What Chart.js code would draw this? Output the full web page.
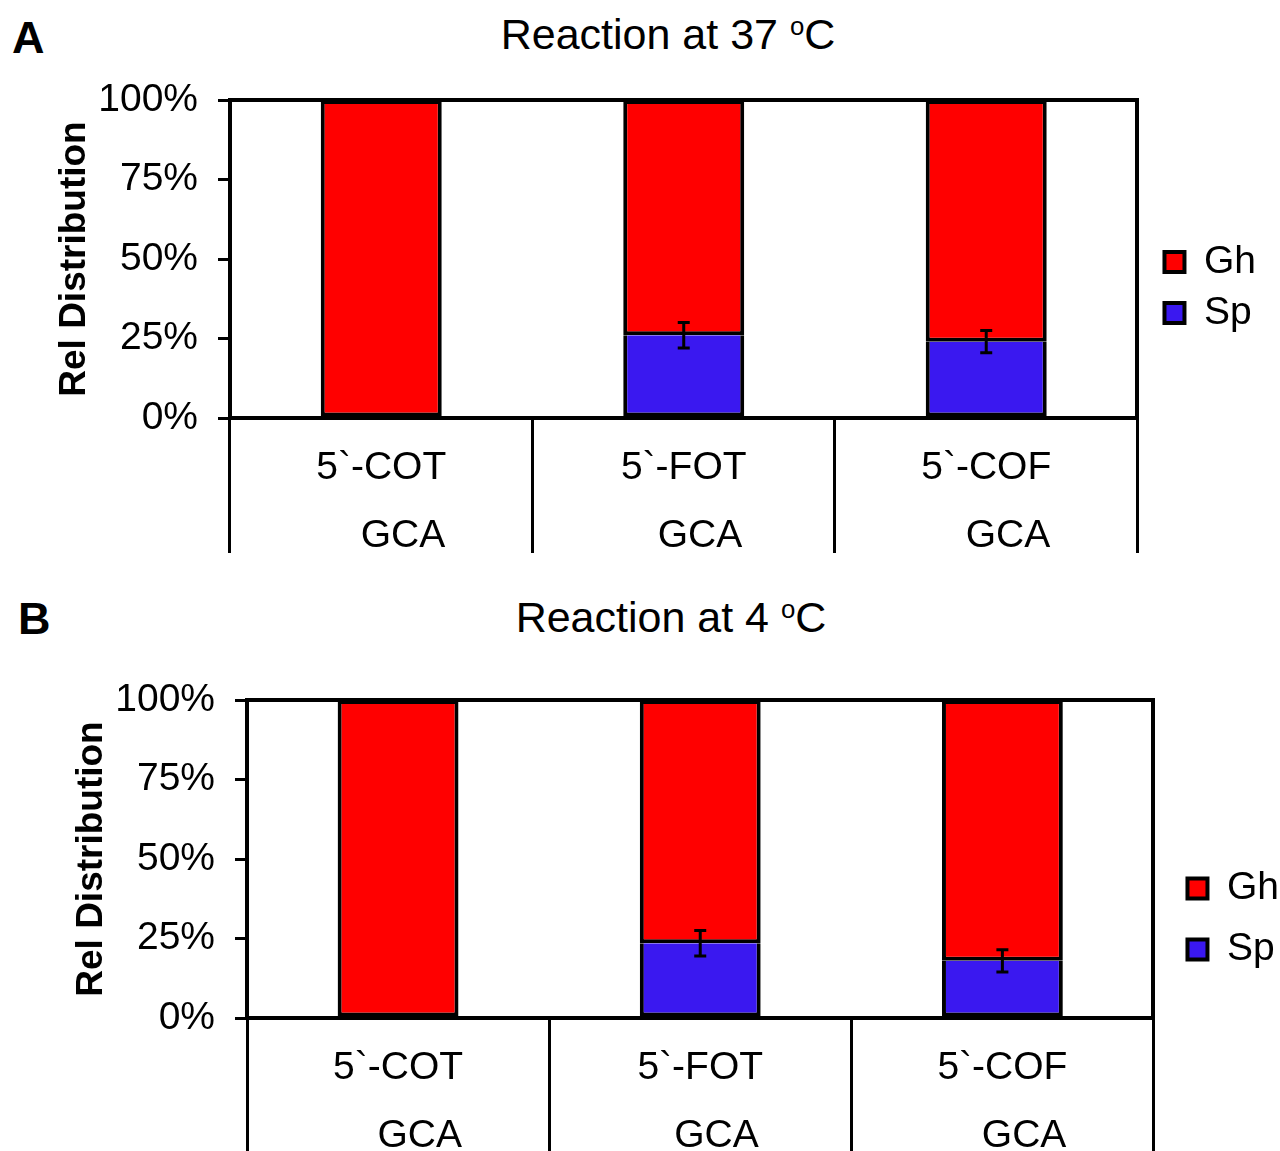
<!DOCTYPE html>
<html><head><meta charset="utf-8">
<script src="https://cdn.jsdelivr.net/npm/chart.js@4.4.0/dist/chart.umd.min.js"></script>
<style>
html,body{margin:0;padding:0;overflow:hidden;background:#fff;width:1280px;height:1151px;}
body{position:relative;font-family:"Liberation Sans",Arial,sans-serif;}
canvas{position:absolute;}
.lbl{position:absolute;font-weight:bold;font-size:45px;line-height:1;color:#000;}
.ttl{position:absolute;font-size:43px;line-height:1;color:#000;white-space:nowrap;transform:translateX(-50%);}
.ttl sup{font-size:0.6em;vertical-align:0.55em;line-height:0;}
</style></head><body>
<div class="lbl" style="left:12px;top:15px">A</div>
<div class="ttl" style="left:668px;top:13px">Reaction at 37 <sup>o</sup>C</div>
<canvas id="cA" width="1280" height="575" style="left:0;top:0"></canvas>
<div class="lbl" style="left:18px;top:596px">B</div>
<div class="ttl" style="left:671px;top:596px">Reaction at 4 <sup>o</sup>C</div>
<canvas id="cB" width="1290" height="638" style="left:17px;top:600px"></canvas>
<script>
const categories = ["5`-COT", "5`-FOT", "5`-COF"];
const subLabels = ["GCA", "GCA", "GCA"];
const yTicks = [0, 25, 50, 75, 100];
const seriesNames = ["Sp", "Gh"];
// Reaction at 37 oC
const sp37 = [0, 26, 24];
const gh37 = [100, 74, 76];
const spErr37 = [0, 4, 3.5];
// Reaction at 4 oC
const sp4 = [0, 23.5, 18];
const gh4 = [100, 76.5, 82];
const spErr4 = [0, 4, 3.5];

Chart.defaults.font.family = '"Liberation Sans", Arial, sans-serif';
Chart.defaults.color = '#000';

const subPad = ["    ", "   ", "    "];

const errorBarPlugin = {
  id: 'errbars',
  afterDatasetsDraw(chart, args, opts) {
    const ctx = chart.ctx;
    const yS = chart.scales.y;
    const meta = chart.getDatasetMeta(0);
    opts.err.forEach((e, i) => {
      if (!e) return;
      const v = opts.val[i];
      const x = meta.data[i].x;
      const yT = yS.getPixelForValue(v + e), yB = yS.getPixelForValue(v - e);
      ctx.save();
      ctx.strokeStyle = '#000';
      ctx.lineWidth = 3;
      ctx.beginPath();
      ctx.moveTo(x, yT); ctx.lineTo(x, yB);
      ctx.moveTo(x - 6, yT); ctx.lineTo(x + 6, yT);
      ctx.moveTo(x - 6, yB); ctx.lineTo(x + 6, yB);
      ctx.stroke();
      ctx.restore();
    });
  }
};

function makeChart(id, sp, gh, err, xAxisH, gapRight, padRight, legendPad) {
  return new Chart(document.getElementById(id), {
    type: 'bar',
    data: {
      labels: categories,
      datasets: [
        { label: seriesNames[0], data: sp, backgroundColor: '#3A18F0', borderColor: '#000', borderWidth: 4, borderSkipped: 'top', barPercentage: 0.4, categoryPercentage: 1 },
        { label: seriesNames[1], data: gh, backgroundColor: '#FF0000', borderColor: '#000', borderWidth: 4, borderSkipped: false, barPercentage: 0.4, categoryPercentage: 1 }
      ]
    },
    plugins: [errorBarPlugin],
    options: {
      responsive: false,
      animation: false,
      devicePixelRatio: 1,
      layout: { padding: { top: 0, left: 0, bottom: 0, right: padRight } },
      plugins: {
        legend: {
          position: 'right', reverse: true, align: 'center',
          labels: { color: '#000', font: { size: 39 }, boxWidth: 20, boxHeight: 20, padding: legendPad }
        },
        tooltip: { enabled: false },
        errbars: { val: sp, err: err }
      },
      scales: {
        x: {
          type: 'category', stacked: true, position: 'bottom', offset: true,
          grid: { display: true, offset: true, drawOnChartArea: false, drawTicks: true, tickLength: 135, color: '#000', lineWidth: 3 },
          border: { display: true, color: '#000', width: 4 },
          ticks: {
            color: '#000', font: { size: 39, lineHeight: 1.744 }, padding: -119, maxRotation: 0, autoSkip: false,
            callback: (v, i) => [categories[i], subPad[i] + subLabels[i]]
          },
          afterFit: s => { s.height = xAxisH; }
        },
        xTop: {
          type: 'category', position: 'top',
          grid: { display: false }, ticks: { display: false },
          border: { display: true, color: '#000', width: 4 },
          afterFit: s => { s.height = 100; }
        },
        y: {
          type: 'linear', stacked: true, min: 0, max: 100, position: 'left',
          afterBuildTicks: s => { s.ticks = yTicks.map(v => ({ value: v })); },
          ticks: { color: '#000', font: { size: 39 }, padding: 20, callback: v => v + '%' },
          grid: { drawOnChartArea: false, drawTicks: true, tickLength: 12, color: '#000', lineWidth: 3 },
          border: { display: true, color: '#000', width: 4 },
          title: { display: true, text: 'Rel Distribution', color: '#000', font: { size: 37, weight: 'bold' }, padding: { top: 53, bottom: 0 } },
          afterFit: s => { s.width = 230; }
        },
        yRight: {
          type: 'linear', position: 'right', min: 0, max: 100,
          grid: { display: false }, ticks: { display: false },
          border: { display: true, color: '#000', width: 4 },
          afterFit: s => { s.width = gapRight; }
        }
      }
    }
  });
}

makeChart('cA', sp37, gh37, spErr37, 157, 15, 14, 12);
makeChart('cB', sp4, gh4, spErr4, 220, 12, 18, 22);
</script>
</body></html>
